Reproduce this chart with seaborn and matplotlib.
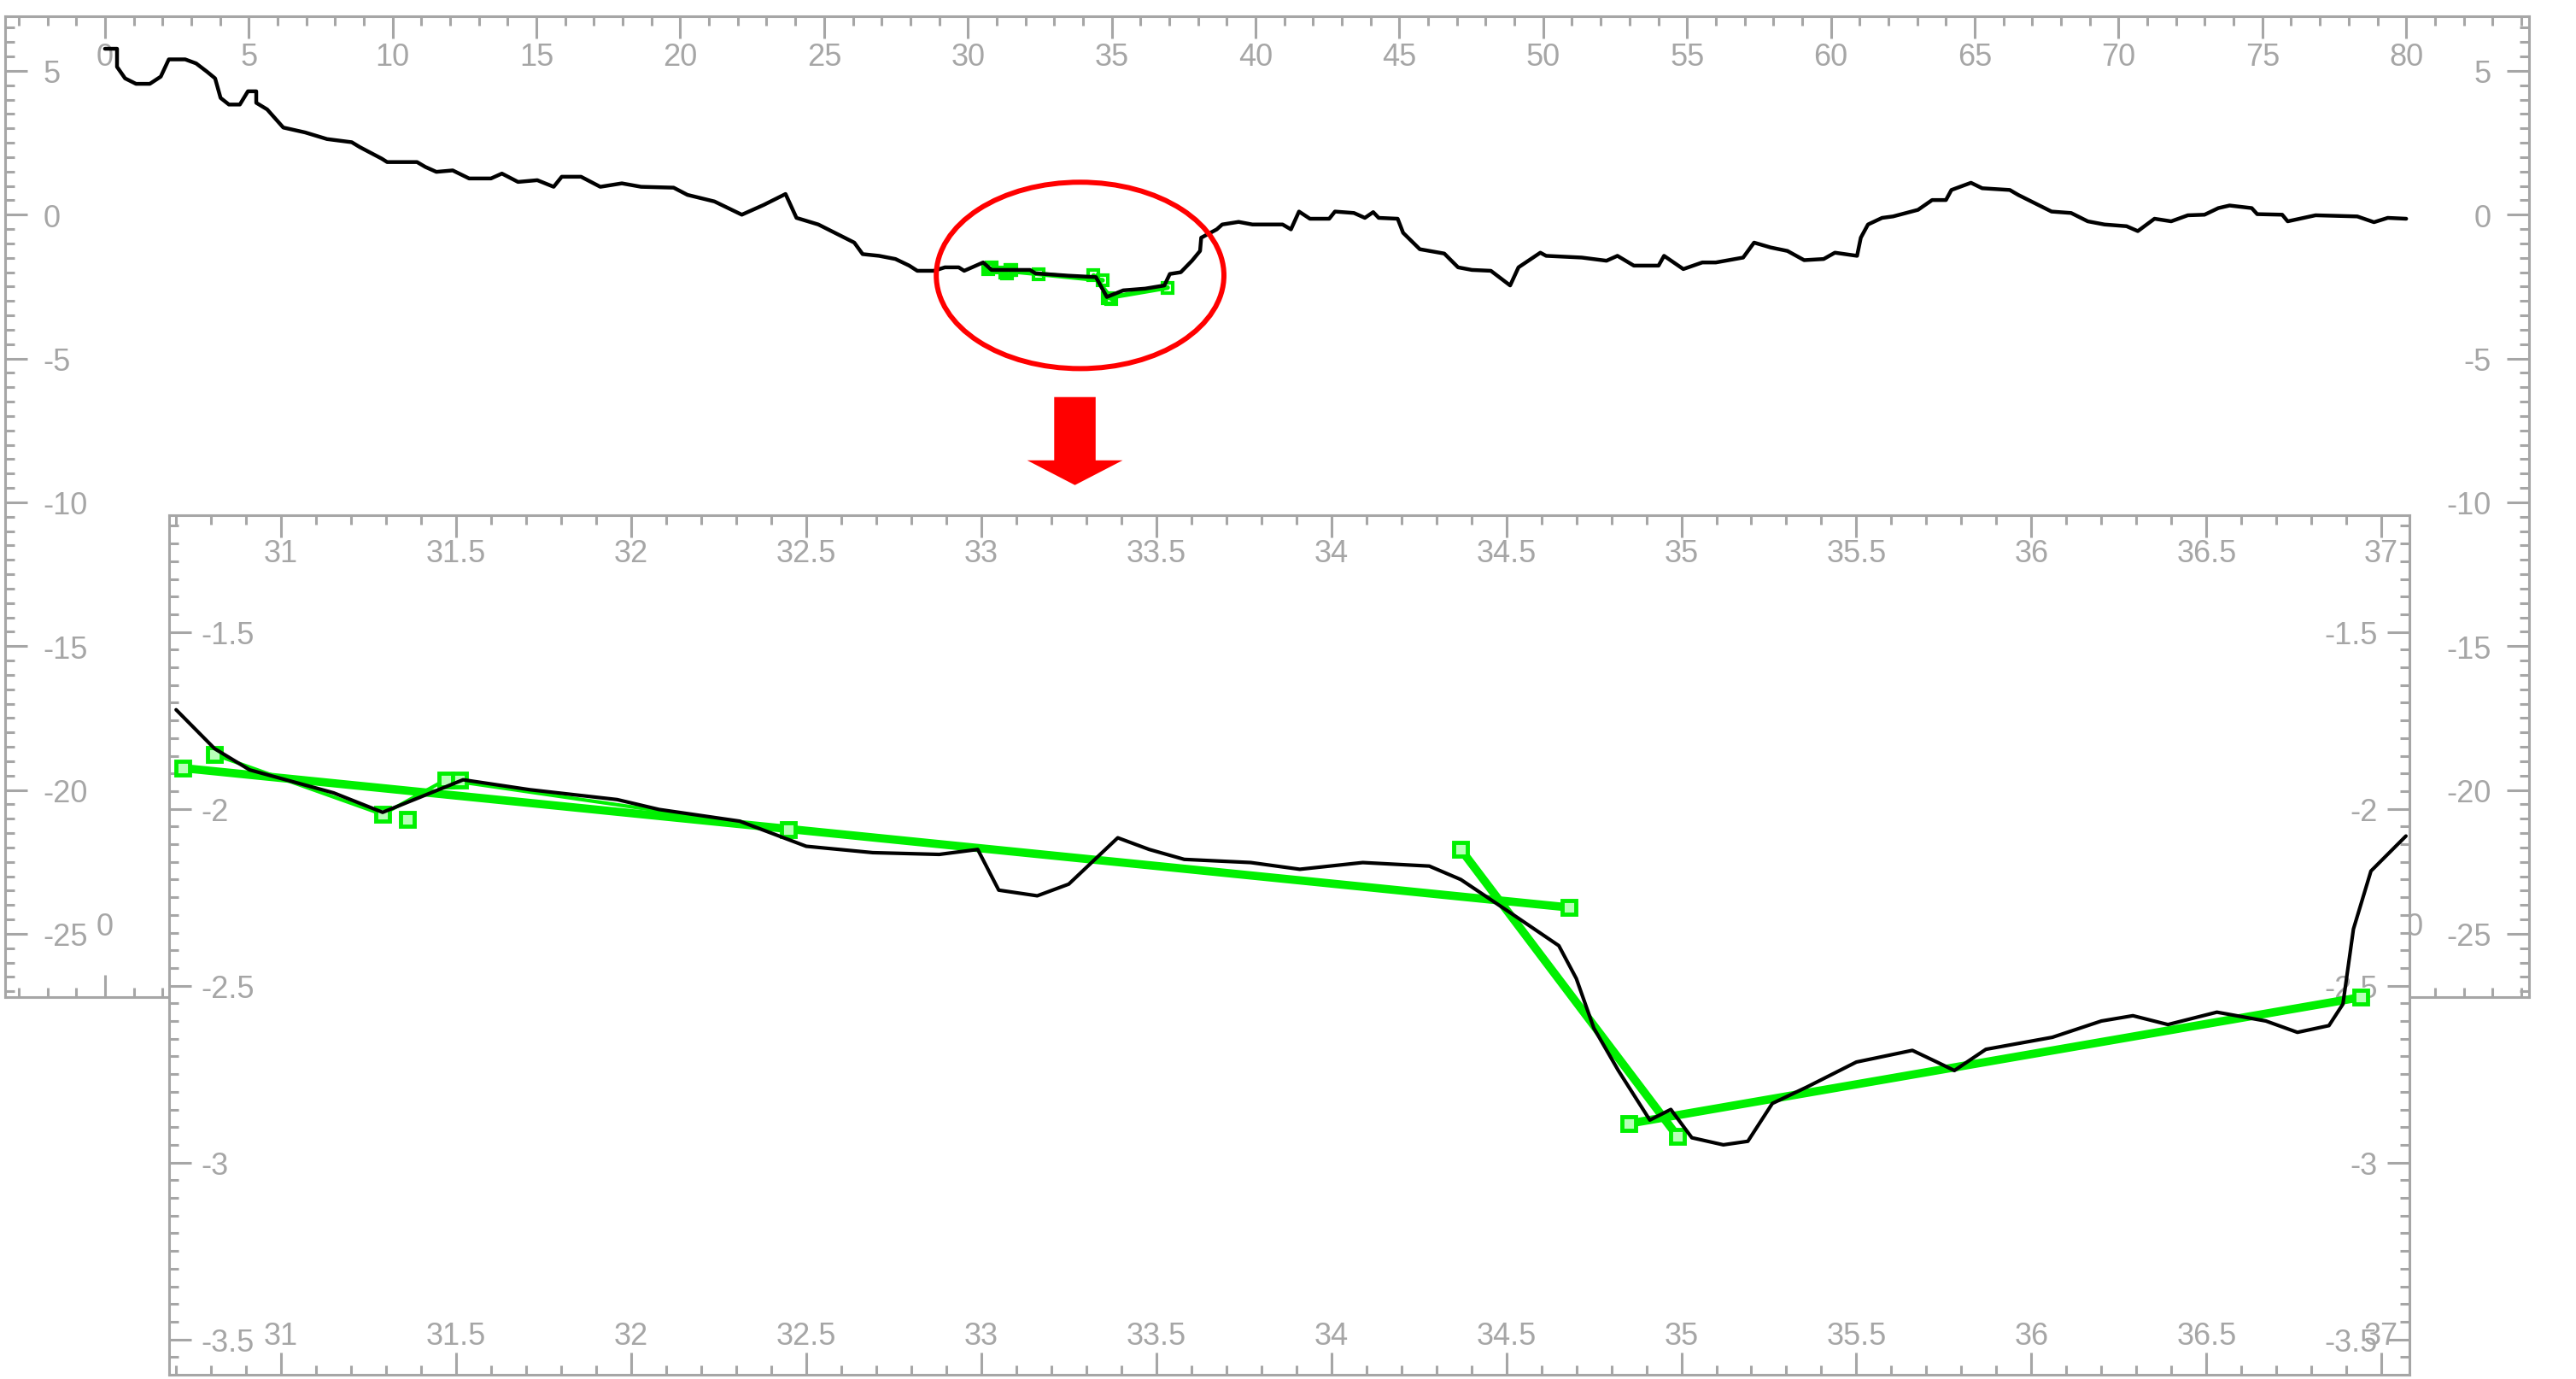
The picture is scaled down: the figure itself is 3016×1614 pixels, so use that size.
import numpy as np
import pandas as pd
import matplotlib
matplotlib.use("Agg")
import matplotlib.pyplot as plt
import seaborn as sns
from matplotlib.patches import Ellipse, FancyArrow
from matplotlib.ticker import MultipleLocator, FormatStrFormatter

# full signal
main_x = [0, 0.42, 0.42, 0.70, 1.08, 1.56, 1.94, 2.22, 2.79, 3.17, 3.55, 3.83, 4.02, 4.31, 4.69,
          4.97, 5.26, 5.26, 5.64, 6.20, 6.96, 7.72, 8.58, 8.86, 9.62, 9.81, 10.85, 11.14, 11.52,
          12.09, 12.66, 13.42, 13.80, 14.36, 15.03, 15.6, 15.88, 16.55, 17.22, 17.97, 18.64,
          19.77, 20.25, 21.19, 22.14, 22.90, 23.66, 24.04, 24.80, 26.05, 26.34, 26.91, 27.48,
          27.96, 28.24, 28.82, 29.2, 29.68, 29.87, 30.53, 30.82, 32.16, 32.35, 33.49, 34.45,
          34.83, 35.40, 36.16, 36.83, 37.02, 37.40, 37.79, 38.07, 38.11, 38.65, 38.84, 39.41,
          39.89, 40.94, 41.23, 41.51, 41.89, 42.56, 42.76, 43.42, 43.80, 44.09, 44.28, 44.94,
          45.13, 45.71, 46.56, 47.04, 47.52, 48.18, 48.47, 48.85, 49.14, 49.90, 50.10, 51.34,
          52.20, 52.58, 53.15, 54.01, 54.20, 54.87, 55.53, 56.0, 56.95, 57.33, 57.91, 58.49,
          59.07, 59.75, 60.14, 60.91, 61.04, 61.29, 61.78, 62.16, 63.03, 63.52, 64.0, 64.19,
          64.87, 65.26, 66.22, 66.51, 67.09, 67.67, 68.35, 68.93, 69.51, 70.28, 70.67, 71.25,
          71.83, 72.41, 72.99, 73.47, 73.86, 74.63, 74.82, 75.69, 75.88, 76.85, 78.30, 78.88,
          79.36, 80.0]
main_y = [5.77, 5.77, 5.14, 4.74, 4.55, 4.55, 4.80, 5.40, 5.40, 5.26, 4.97, 4.74, 4.06, 3.83, 3.83,
          4.29, 4.29, 3.89, 3.66, 3.03, 2.86, 2.63, 2.52, 2.35, 1.95, 1.83, 1.83, 1.66, 1.49,
          1.54, 1.26, 1.26, 1.43, 1.14, 1.20, 0.97, 1.32, 1.32, 0.97, 1.09, 0.97,
          0.94, 0.69, 0.46, 0.00, 0.34, 0.72, -0.11, -0.34, -0.97, -1.37, -1.43, -1.54,
          -1.77, -1.95, -1.95, -1.83, -1.83, -1.95, -1.66, -1.92, -1.92, -2.04, -2.12, -2.17,
          -2.86, -2.63, -2.57, -2.46, -2.06, -2.00, -1.60, -1.26, -0.80, -0.51, -0.34, -0.25,
          -0.34, -0.34, -0.51, 0.11, -0.14, -0.14, 0.11, 0.06, -0.11, 0.09, -0.11, -0.14,
          -0.63, -1.20, -1.35, -1.83, -1.92, -1.95, -2.17, -2.46, -1.83, -1.32, -1.43, -1.49,
          -1.60, -1.43, -1.77, -1.77, -1.43, -1.89, -1.66, -1.66, -1.49, -0.97, -1.14, -1.26,
          -1.58, -1.54, -1.32, -1.43, -0.80, -0.34, -0.11, -0.06, 0.17, 0.51, 0.51, 0.86,
          1.11, 0.92, 0.86, 0.69, 0.40, 0.11, 0.06, -0.23, -0.34, -0.40, -0.57, -0.14,
          -0.23, -0.02, 0.00, 0.23, 0.32, 0.23, 0.02, 0.00, -0.23, -0.02, -0.06, -0.26,
          -0.11, -0.14]

# zoomed segment
zoom_x = [30.70, 30.81, 30.91, 31.15, 31.29, 31.38, 31.52, 31.71, 31.96, 32.08, 32.31, 32.50,
          32.69, 32.88, 32.99, 33.05, 33.16, 33.25, 33.39, 33.48, 33.58, 33.77, 33.91, 34.09,
          34.28, 34.37, 34.51, 34.65, 34.70, 34.75, 34.82, 34.91, 34.97, 35.03, 35.12, 35.19,
          35.26, 35.36, 35.50, 35.66, 35.73, 35.78, 35.87, 36.06, 36.20, 36.29, 36.39, 36.53,
          36.67, 36.76, 36.85, 36.89, 36.92, 36.97, 37.07]
zoom_y = [-1.72, -1.83, -1.89, -1.955, -2.01, -1.974, -1.918, -1.946, -1.974, -2.002, -2.035, -2.106,
          -2.124, -2.129, -2.115, -2.23, -2.246, -2.213, -2.082, -2.115, -2.143, -2.152, -2.171, -2.152,
          -2.162, -2.2, -2.293, -2.387, -2.48, -2.62, -2.74, -2.88, -2.85, -2.93, -2.95, -2.94,
          -2.833, -2.786, -2.716, -2.683, -2.716, -2.74, -2.68, -2.646, -2.6, -2.585, -2.61, -2.575,
          -2.6, -2.632, -2.613, -2.552, -2.34, -2.176, -2.077]

# detected breakpoints (green squares)
pts_x = [30.72, 30.81, 31.29, 31.36, 31.47, 31.51, 32.45, 34.37, 34.68, 34.85, 34.99, 36.94]
pts_y = [-1.885, -1.847, -2.016, -2.03, -1.918, -1.918, -2.059, -2.115, -2.279, -2.89, -2.927, -2.533]
# fitted segments as index pairs into the breakpoints
segments = [(0, 8), (7, 10), (9, 11)]
trace_idx = [1, 2, 4, 6]

GRAY = "#a6a6a6"
GREEN = "#00f000"
W, H = 3016, 1615

sns.set_style("white")
plt.rcParams["font.family"] = ["Liberation Sans Narrow", "Liberation Sans", "DejaVu Sans"]
plt.rcParams["axes.unicode_minus"] = False

fig = plt.figure(figsize=(W / 100, H / 100), dpi=100)


def box(left, top, right, bottom):
    return [left / W, 1 - bottom / H, (right - left) / W, (bottom - top) / H]


def style_frame(ax, xmaj, xmin, ymaj, ymin, pads):
    pxax, pyax = pads
    ax.xaxis.set_major_locator(MultipleLocator(xmaj))
    ax.xaxis.set_minor_locator(MultipleLocator(xmin))
    ax.yaxis.set_major_locator(MultipleLocator(ymaj))
    ax.yaxis.set_minor_locator(MultipleLocator(ymin))
    ax.xaxis.set_major_formatter(FormatStrFormatter("%g"))
    ax.yaxis.set_major_formatter(FormatStrFormatter("%g"))
    for s in ax.spines.values():
        s.set_visible(True)
        s.set_color(GRAY)
        s.set_linewidth(2.2)
    ax.tick_params(which="both", direction="in", color=GRAY, width=2.2,
                   top=True, bottom=True, left=True, right=True,
                   labeltop=True, labelbottom=True, labelleft=True, labelright=True,
                   labelcolor=GRAY, labelsize=26)
    ax.tick_params(which="major", length=19)
    ax.tick_params(which="minor", length=8)
    ax.set_xlabel("")
    ax.set_ylabel("")
    # labels sit inside the frame, Mathematica style
    for t in ax.xaxis.get_major_ticks():
        t.label1.set_va("bottom")
    for t in ax.yaxis.get_major_ticks():
        t.label1.set_ha("left")
        t.label2.set_ha("right")
    ax.xaxis.set_tick_params(which="major", pad=pxax)
    ax.yaxis.set_tick_params(which="major", pad=pyax)


# ---- main panel ----
ax = fig.add_axes(box(6, 20, 2961, 1168))
sns.lineplot(x=main_x, y=main_y, ax=ax, color="black", lw=3.2, sort=False, estimator=None, zorder=3)
for a, b in segments:
    ax.plot([pts_x[a], pts_x[b]], [pts_y[a], pts_y[b]], color=GREEN, lw=4, zorder=2)
ax.plot([pts_x[i] for i in trace_idx], [pts_y[i] for i in trace_idx], color=GREEN, lw=3, zorder=2)
ax.plot(pts_x, pts_y, ls="none", marker="s", ms=9, mfc="none", mec=GREEN, mew=3, zorder=2)
ax.add_patch(Ellipse((33.9, -2.11), 10.0, 6.48, fill=False, ec="red", lw=4.3, zorder=4))
ax.add_patch(FancyArrow(33.72, -6.34, 0, -3.06, width=1.44, head_width=3.32, head_length=0.86,
                        length_includes_head=True, color="red", lw=0, zorder=4))
ax.set_xlim(-3.47, 84.27)
ax.set_ylim(-27.2, 6.9)
style_frame(ax, 5, 1, 5, 0.5, (-47, -32))

# ---- zoomed panel ----
ins = fig.add_axes(box(198, 604, 2821, 1610))
ins.set_facecolor("white")
ins.set_zorder(5)
for a, b in segments:
    ins.plot([pts_x[a], pts_x[b]], [pts_y[a], pts_y[b]], color=GREEN, lw=7, zorder=2,
             solid_capstyle="butt")
ins.plot([pts_x[i] for i in trace_idx], [pts_y[i] for i in trace_idx], color=GREEN, lw=3, zorder=2)
ins.plot(pts_x, pts_y, ls="none", marker="s", ms=12, mfc="#b8ffb8", mec=GREEN, mew=3.5, zorder=2)
sns.lineplot(x=zoom_x, y=zoom_y, ax=ins, color="black", lw=3, sort=False, estimator=None, zorder=3)
ins.set_xlim(30.68, 37.08)
ins.set_ylim(-3.60, -1.17)
style_frame(ins, 0.5, 0.1, 0.5, 0.05, (-45, -27))
for t in ins.xaxis.get_major_ticks():
    t.label1.set_va("top")
ax.figure.canvas.draw()
for t in ins.xaxis.get_major_ticks():
    t.label1.set_va("top")

fig.savefig("out.png", dpi=100)
